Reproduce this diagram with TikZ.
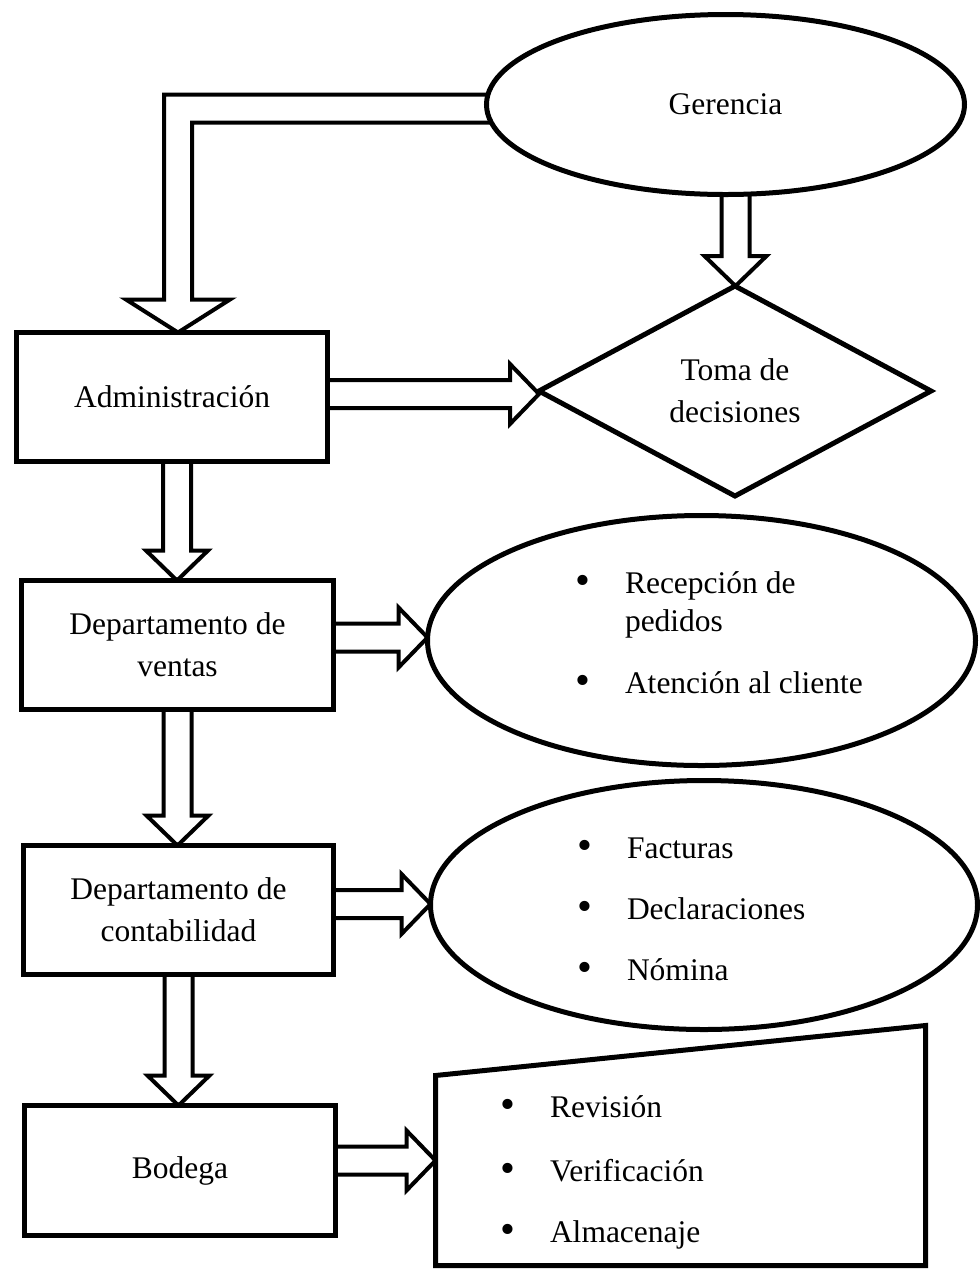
\documentclass[tikz,border=0pt]{standalone}
\usepackage{fontspec}
\setmainfont{Liberation Serif}
\usetikzlibrary{shapes.geometric,calc,backgrounds}

\tikzset{
  box/.style={draw, fill=white, line width=5pt, rectangle, inner sep=0pt, outer sep=0pt, align=center},
  oval/.style={draw, fill=white, line width=5pt, ellipse, inner sep=0pt, outer sep=0pt, align=center},
  rhomb/.style={draw, fill=white, line width=5pt, diamond, inner sep=0pt, outer sep=0pt, align=center},
  item/.style={anchor=base west, inner sep=0pt, outer sep=0pt},
  blockarrow/.style={draw, line width=4pt, line join=miter},
}

% hollow block arrow pointing down: axis from #1, tip on the level of #2, head half-width #3
\newcommand\downblock[3]{%
  \draw[blockarrow] let \p1=(#1), \p2=(#2) in
    (\x1-14pt,\y1) -- (\x1-14pt,\y2+30pt) -- (\x1-#3,\y2+30pt) -- (\x1,\y2)
    -- (\x1+#3,\y2+30pt) -- (\x1+14pt,\y2+30pt) -- (\x1+14pt,\y1);}
% hollow block arrow pointing right: axis from #1, tip at the x of #2
\newcommand\rightblock[2]{%
  \draw[blockarrow] let \p1=(#1), \p2=(#2) in
    (\x1,\y1+14pt) -- (\x2-29pt,\y1+14pt) -- (\x2-29pt,\y1+30pt) -- (\x2,\y1)
    -- (\x2-29pt,\y1-30pt) -- (\x2-29pt,\y1-14pt) -- (\x1,\y1-14pt);}

% list bullet hanging to the left of the item text
\newcommand\bul{\llap{\raisebox{-1.5pt}{\scalebox{1.35}{•}}\hspace{35pt}}}

\begin{document}
\begin{tikzpicture}[x=1pt, y=-1pt, font=\fontsize{31.5pt}{42pt}\selectfont]
\useasboundingbox (0,0) rectangle (980,1270);

% main boxes
\node[oval, minimum width=478pt, minimum height=180pt] (ger) at (725.5,104.5) {Gerencia};
\node[box, minimum width=311pt, minimum height=129pt] (adm) at (172,397) {Administración};
\node[rhomb, minimum width=392pt, minimum height=210pt] (dia) at (735,391) {Toma de\\decisiones};
\node[box, minimum width=312pt, minimum height=129pt] (ven) at (177.5,645) {Departamento de\\ventas};
\node[oval, minimum width=548pt, minimum height=250pt] (ell2) at (701.5,640.5) {};
\node[box, minimum width=310pt, minimum height=129pt] (con) at (178.5,910) {Departamento de\\contabilidad};
\node[oval, minimum width=547pt, minimum height=249pt] (ell3) at (704,905) {};
\node[box, minimum width=311pt, minimum height=130pt] (bod) at (180,1170.5) {Bodega};

% manual-input shape for the warehouse tasks
\node[inner sep=0pt, outer sep=0pt, minimum width=490pt, minimum height=240pt, anchor=north west] (man) at (435.5,1025.5) {};
\draw[line width=5pt, fill=white, line join=miter]
  (man.south west) -- ([yshift=-50pt]man.north west) -- (man.north east) -- (man.south east) -- cycle;

% bullet lists
\node[item] (r1) at (625,593) {\bul Recepción de};
\node[item] (r2) at (625,631) {pedidos};
\node[item] (r3) at (625,693) {\bul Atención al cliente};
\node[item] (f1) at (627,858) {\bul Facturas};
\node[item] (f2) at (627,919) {\bul Declaraciones};
\node[item] (f3) at (627,980) {\bul Nómina};
\node[item] (m1) at (550,1117) {\bul Revisión};
\node[item] (m2) at (550,1181) {\bul Verificación};
\node[item] (m3) at (550,1242) {\bul Almacenaje};

% block arrows, kept under the shapes
\begin{scope}[on background layer]
  \draw[blockarrow] let \p1=([yshift=-4pt]ger.center), \p2=([xshift=6pt]adm.north) in
    (\x1,\y1+14pt) -- (\x2-14pt,\y1+14pt) -- (\x2-14pt,\y2+33pt) -- (\x2-52pt,\y2+33pt) -- (\x2,\y2)
    -- (\x2+52pt,\y2+33pt) -- (\x2+14pt,\y2+33pt) -- (\x2+14pt,\y1-14pt) -- (\x1,\y1-14pt);
  \downblock{[xshift=10pt]ger.center}{dia.north}{31pt}
  \rightblock{[yshift=3pt]adm.east}{dia.west}
  \downblock{[xshift=5pt]adm.south}{ven.north}{31pt}
  \rightblock{[yshift=7.5pt]ven.east}{ell2.west}
  \downblock{ven.south}{con.north}{31pt}
  \rightblock{[yshift=6pt]con.east}{ell3.west}
  \downblock{con.south}{bod.north}{31pt}
  \rightblock{[yshift=10pt]bod.east}{man.west}
\end{scope}
\end{tikzpicture}
\end{document}
